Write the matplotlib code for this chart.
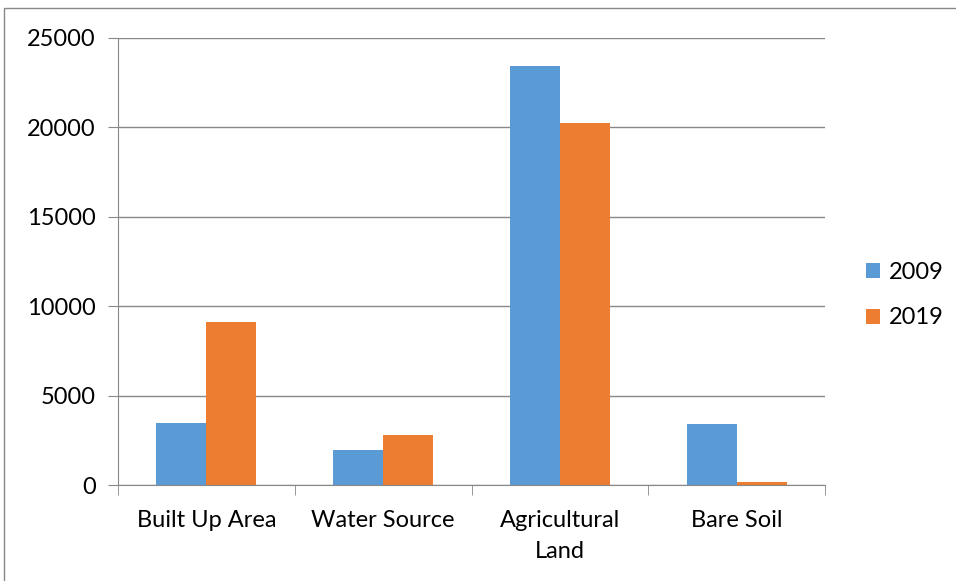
import numpy as np
import matplotlib.pyplot as plt
from matplotlib.patches import Rectangle

categories = ["Built Up Area", "Water Source", "Agricultural\nLand", "Bare Soil"]
years = ["2009", "2019"]
values_2009 = [3450, 1970, 23420, 3420]
values_2019 = [9100, 2780, 20240, 140]

plt.rcParams['font.family'] = ['Lato', 'DejaVu Sans']

fig = plt.figure(figsize=(9.56, 5.81), dpi=100)
ax = fig.add_axes([118 / 956, 1 - 485 / 581, 707 / 956, 447 / 581])

x = np.arange(len(categories))
w = 0.283
ax.bar(x - w / 2, values_2009, w, color='#5B9BD5', label=years[0])
ax.bar(x + w / 2, values_2019, w, color='#ED7D31', label=years[1])

ax.set_xlim(-0.5, len(categories) - 0.5)
ax.set_ylim(0, 25000)
ax.set_yticks(range(0, 25001, 5000))
ax.yaxis.grid(True, color='#888888', linewidth=1)
ax.set_axisbelow(True)

# category labels between boundary ticks
ax.set_xticks(x)
ax.set_xticklabels(categories, fontsize=17, linespacing=1.6)
ax.tick_params(axis='x', length=0, pad=18)
ax.set_xticks(np.arange(-0.5, len(categories)), minor=True)
ax.tick_params(axis='x', which='minor', length=7, color='#888888', direction='out')
ax.tick_params(axis='y', length=7, color='#888888', labelsize=17, pad=9)

for s in ['top', 'right']:
    ax.spines[s].set_visible(False)
for s in ['left', 'bottom']:
    ax.spines[s].set_color('#888888')

ax.legend(loc='center left', bbox_to_anchor=(1.045, 0.425), frameon=False,
          fontsize=17, handlelength=0.6, handleheight=0.6, labelspacing=1.05,
          handletextpad=0.35, borderaxespad=0)

# outer chart frame
fig.patches.append(Rectangle((4 / 956, -0.1), 1.1, 1.1 - 8 / 581,
                             transform=fig.transFigure, fill=False,
                             edgecolor='#888888', linewidth=1))

fig.savefig('out.png', dpi=100)
